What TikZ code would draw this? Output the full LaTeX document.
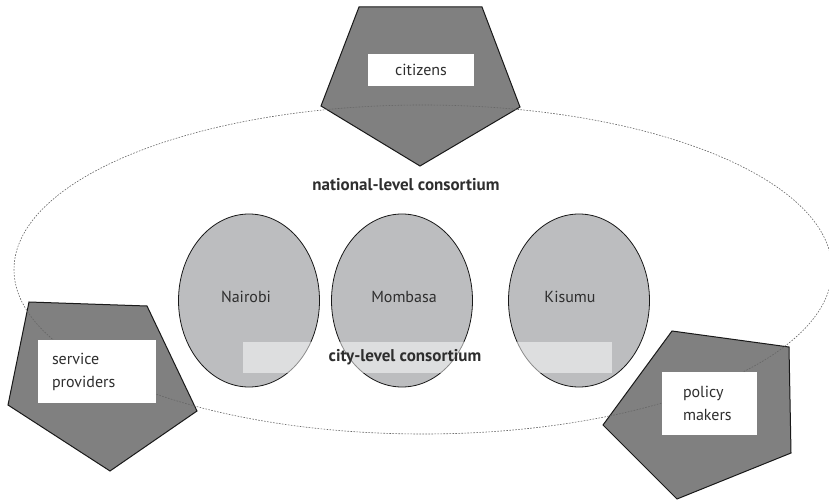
\documentclass[tikz,border=0pt]{standalone}
\usepackage{fontspec}
\setmainfont{PT Sans}
\usetikzlibrary{shapes.geometric}
\definecolor{txt}{HTML}{2E2E2E}
\definecolor{actorfill}{HTML}{808080}
\definecolor{cityfill}{HTML}{BCBDBF}
\begin{document}
\begin{tikzpicture}[x=1pt,y=-1pt,
  actor/.style={draw=black!90, line width=1pt, fill=actorfill, line join=miter},
  labelbox/.style={fill=white, inner sep=0pt, text=txt,
    font=\fontsize{16}{23}\selectfont},
  city/.style={ellipse, draw=black!90, line width=0.8pt, fill=cityfill,
    minimum width=141pt, minimum height=173pt, inner sep=0pt},
  citytext/.style={text=txt, font=\fontsize{16}{19}\selectfont},
  ring/.style={draw=black!60, line width=0.6pt, dash pattern=on 1.6pt off 1.4pt},
  title/.style={text=txt, font=\bfseries\fontsize{17}{20}\selectfont}]
\useasboundingbox (0,0) rectangle (829,502);

% stakeholder pentagons
\draw[actor] (359,7) -- (482,7) -- (520,107) -- (420,166) -- (321,106) -- cycle;
\draw[actor] (29,302) -- (147,306) -- (197,411) -- (110,471) -- (8,405) -- cycle;
\draw[actor] (672,331) -- (789,347) -- (791,453) -- (677,499) -- (603,425) -- cycle;

% national-level consortium boundary
\node[ring, ellipse, minimum width=818pt, minimum height=329pt, inner sep=0pt]
  (national) at (423,269.5) {};

% city-level consortia
\node[city] (nairobi) at (249,300.5) {};
\node[city] (mombasa) at (402,300.5) {};
\node[city] (kisumu)  at (579,300.5) {};
\node[citytext] (nairobiL) at (246,297) {Nairobi};
\node[citytext] (mombasaL) at (404,297) {Mombasa};
\node[citytext] (kisumuL)  at (570,297) {Kisumu};

% translucent band behind the city-level caption
\fill[white, opacity=0.5] (243,342) rectangle (612,373);
\node[title] (cityL) at (405,357) {city-level consortium};
\node[title] (nationalL) at (406,185) {national-level consortium};

% stakeholder labels
\node[labelbox, minimum width=106pt, minimum height=32pt] (citizens) at (421,70) {citizens};
\node[labelbox, minimum width=118pt, minimum height=63pt, align=left,
  text width=90pt] (providers) at (97,371.5) {service\\providers};
\node[labelbox, minimum width=95pt, minimum height=63pt, align=left,
  text width=53pt] (policy) at (709.5,403.5) {policy\\makers};
\end{tikzpicture}
\end{document}
